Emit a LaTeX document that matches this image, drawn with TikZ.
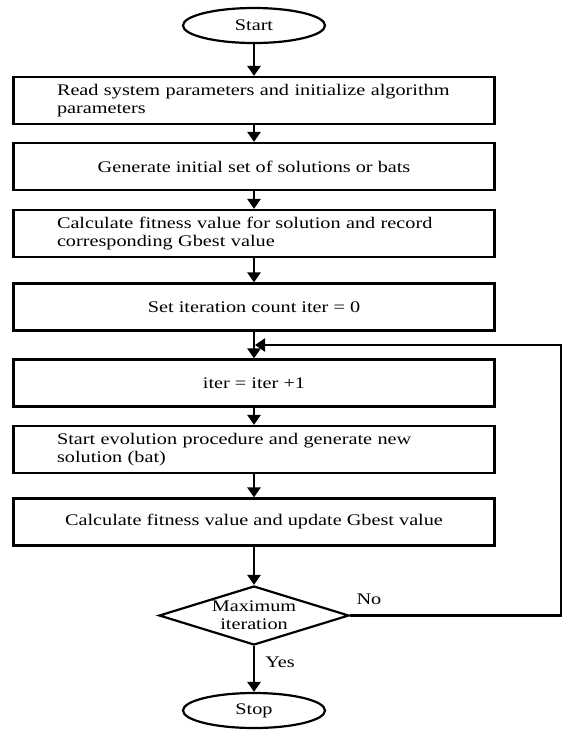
\documentclass[tikz,border=0pt]{standalone}
\usepackage{fontspec}
\setmainfont{Liberation Serif}[FakeStretch=1.25]
\usetikzlibrary{shapes.geometric,arrows.meta}

\begin{document}
\begin{tikzpicture}[x=0.5pt,y=-0.5pt,
    font=\fontsize{8.1}{8.9}\selectfont,
    box/.style={draw,line width=1.1pt,minimum width=240.5pt,minimum height=23.5pt,inner ysep=0pt},
    leftbox/.style={box,text width=197pt,inner xsep=21.75pt,align=left},
    midbox/.style={box,align=center},
    term/.style={draw,ellipse,line width=1.1pt,minimum width=71pt,minimum height=17.5pt,inner sep=0pt},
    decision/.style={draw,diamond,line width=1.1pt,minimum width=95pt,minimum height=29.5pt,
      inner sep=0pt,aspect=3,align=center},
    arrow/.style={line width=1.4pt,-{Triangle[width=6.5pt,length=5pt]}}]
    \useasboundingbox (0,0) rectangle (565,730);

    \node[term] (start) at (254,25.5) {Start};
    \node[leftbox] (read) at (254,100.5) {Read system parameters and initialize algorithm\\parameters};
    \node[midbox] (gen) at (254,166.5) {Generate initial set of solutions or bats};
    \node[leftbox] (fit) at (254,233.5) {Calculate fitness value for solution and record\\corresponding Gbest value};
    \node[midbox] (setit) at (254,307) {Set iteration count iter = 0};
    \node[midbox] (inc) at (254,383) {iter = iter +1};
    \node[leftbox] (evo) at (254,449.5) {Start evolution procedure and generate new\\solution (bat)};
    \node[midbox] (upd) at (254,522) {Calculate fitness value and update Gbest value};
    \node[decision] (maxit) at (254,615.5) {Maximum\\iteration};
    \node[term] (stop) at (254,710.5) {Stop};

    % main flow
    \draw[arrow] (start) -- (read);
    \draw[arrow] (read) -- (gen);
    \draw[arrow] (gen) -- (fit);
    \draw[arrow] (fit) -- (setit);
    \draw[arrow] (setit) -- (inc);
    \draw[arrow] (inc) -- (evo);
    \draw[arrow] (evo) -- (upd);
    \draw[arrow] (upd) -- (maxit);
    \draw[arrow] (maxit) -- (stop);

    % loop back
    \coordinate (loopin) at (255,345);
    \coordinate (loopout) at (561,345);
    \draw[arrow,line width=1.1pt] (maxit.east) -| (loopout) -- (loopin);

    \node (no) at (369,599) {No};
    \node (yes) at (280,662) {Yes};
  \end{tikzpicture}
\end{document}
